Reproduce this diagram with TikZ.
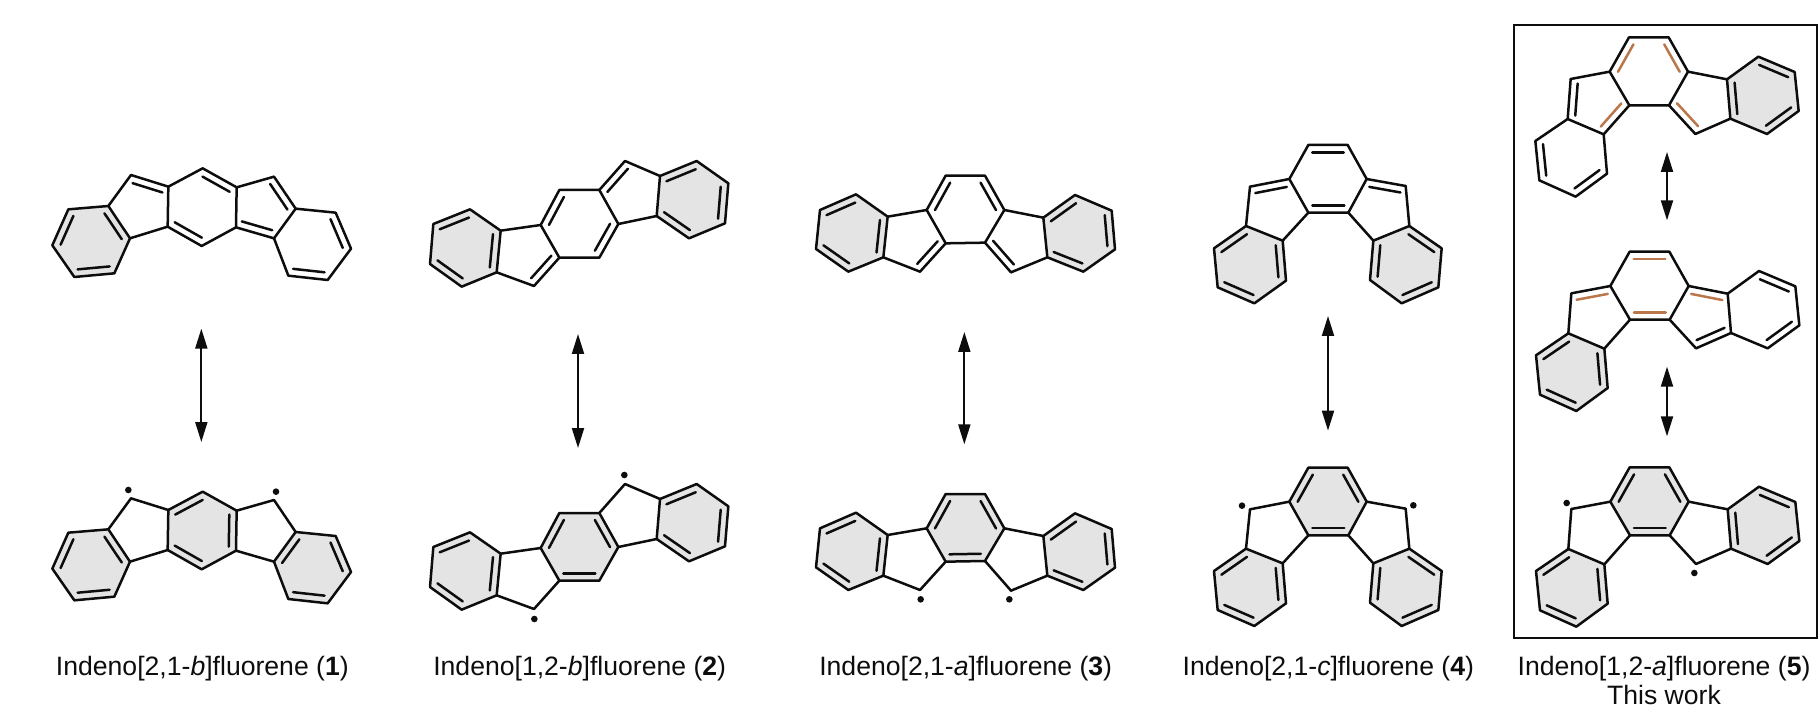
\documentclass[tikz,border=0pt]{standalone}
\usepackage{fontspec}
\setmainfont{Liberation Sans}
\usetikzlibrary{calc,arrows.meta}
\definecolor{ringgrey}{HTML}{E4E4E4}
\definecolor{orangebond}{HTML}{B9774B}
\definecolor{ink}{HTML}{0D0D0D}
\tikzset{
  bond/.style={draw=ink,line width=1.25pt,line join=round,line cap=round},
  hl/.style={bond,draw=orangebond},
  ringfill/.style={fill=ringgrey},
  reso/.style={draw=ink,line width=1pt,{Triangle[length=10pt,width=6pt]}-{Triangle[length=10pt,width=6pt]}},
  lab/.style={anchor=base,inner sep=0pt,font=\fontsize{13.3pt}{16pt}\selectfont,text=ink},
  spin/.style={fill=ink}
}
% atoms
\newcommand\setgeom[2]{\foreach \n/\x/\y in {#2}{\coordinate (#1\n) at (\x,\y);}}
\newcommand\geomA[1]{\setgeom{#1}{a/115/178,b/235/168,c/300/265,d/253/370,e/133/381,f/67/286,i/303/75,g/415/110,h/413/230,j/518/55,k/620/112,l/618/232,m/515/288,n/732/80,o/797/176,p/732/265,q/917/188,r/963/296,s/893/390,t/775/377}}
\newcommand\geomB[1]{\setgeom{#1}{a/70/222,b/180/178,c/272/242,d/260/367,e/155/410,f/60/342,g/392/225,h/448/323,i/372/408,j/448/120,k/568/120,l/625/222,m/568/323,n/645/33,o/750/78,p/740/198,q/860/33,r/955/100,s/945/220,t/837/265}}
\newcommand\geomC[1]{\setgeom{#1}{a/60/150,b/168/103,c/263/170,d/250/292,e/145/335,f/48/267,g/380/150,h/437/250,i/360/335,j/437/47,k/555/47,l/613/150,m/555/248,o/730/173,p/742/292,n/633/337,q/825/105,r/935/152,s/945/268,t/850/335}}
\newcommand\geomD[1]{\setgeom{#1}{a/42/355,b/138/288,c/248/332,d/258/452,e/163/520,f/53/472,i/150/170,g/268/147,h/325/248,j/325/45,k/443/45,l/500/147,m/445/248,n/617/168,o/628/288,p/520/332,q/725/355,r/715/472,s/605/520,t/510/450}}
\newcommand\geomE[1]{\setgeom{#1}{a/76/363,b/173/297,c/281/343,d/291/461,e/197/530,f/88/481,i/182/177,g/299/155,h/358/256,j/357/52,k/476/52,l/534/155,m/477/256,o/651/178,p/661/296,n/556/342,q/745/110,r/854/156,s/866/273,t/771/342}}
% rings
\newcommand\ring[4]{\path[#1] (#2#3) \foreach \v in {#4}{-- (#2\v)} -- cycle;}
\newcommand\fillHL[1]{\ring{ringfill}{#1}{a}{b,c,d,e,f}}
\newcommand\fillC[1]{\ring{ringfill}{#1}{g}{j,k,l,m,h}}
\newcommand\fillHR[1]{\ring{ringfill}{#1}{o}{q,r,s,t,p}}
\newcommand\skel[2]{%
  \ring{bond}{#1}{a}{b,c,d,e,f}
  \ring{bond}{#1}{g}{j,k,l,m,h}
  \ring{bond}{#1}{o}{q,r,s,t,p}
  \foreach \a/\b in {#2}{\draw[bond] (#1\a) -- (#1\b);}}
\newcommand\dbl[3]{\foreach \a/\b in {#3}{\draw[#1] ($(#2\a)!.1!(#2\b)!3.65pt!-90:(#2\b)$) -- ($(#2\b)!.1!(#2\a)!3.65pt!90:(#2\a)$);}}
\begin{document}
\begin{tikzpicture}[x=0.166667pt,y=-0.166667pt]
\useasboundingbox (0,0) rectangle (5460,2118);
% ---------- molecule 1
\begin{scope}[shift={(90,450)}]\geomA{Pa}\end{scope}
\fillHL{Pa}
\skel{Pa}{b/i,i/g,h/c,k/n,n/o,p/l}
\dbl{bond}{Pa}{f/a,b/c,d/e,i/g,j/k,m/h,n/o,p/l,q/r,s/t}
\begin{scope}[shift={(90,1420)}]\geomA{Pb}
\fill[spin] (295,50) circle[radius=1.65pt];
\fill[spin] (738,55) circle[radius=1.65pt];
\end{scope}
\fillHL{Pb}\fillC{Pb}\fillHR{Pb}
\skel{Pb}{b/i,i/g,h/c,k/n,n/o,p/l}
\dbl{bond}{Pb}{f/a,b/c,d/e,g/j,k/l,m/h,p/o,q/r,s/t}
% ---------- molecule 2
\begin{scope}[shift={(1230,450)}]\geomB{Qa}\end{scope}
\fillHL{Qa}\fillHR{Qa}
\skel{Qa}{c/g,h/i,i/d,k/n,n/o,p/l}
\dbl{bond}{Qa}{a/b,c/d,e/f,h/i,g/j,l/m,k/n,o/q,r/s,t/p}
\begin{scope}[shift={(1230,1419)}]\geomB{Qb}
\fill[spin] (643,6) circle[radius=1.65pt];
\fill[spin] (373,438) circle[radius=1.65pt];
\end{scope}
\fillHL{Qb}\fillC{Qb}\fillHR{Qb}
\skel{Qb}{c/g,h/i,i/d,k/n,n/o,p/l}
\dbl{bond}{Qb}{a/b,c/d,e/f,g/j,k/l,m/h,o/q,r/s,t/p}
% ---------- molecule 3
\begin{scope}[shift={(2400,480)}]\geomC{Ra}\end{scope}
\fillHL{Ra}\fillHR{Ra}
\skel{Ra}{c/g,h/i,i/d,l/o,p/n,n/m}
\dbl{bond}{Ra}{a/b,c/d,e/f,g/j,k/l,h/i,n/m,o/q,r/s,t/p}
\begin{scope}[shift={(2400,1435)}]\geomC{Rb}
\fill[spin] (362,363) circle[radius=1.65pt];
\fill[spin] (628,363) circle[radius=1.65pt];
\end{scope}
\fillHL{Rb}\fillC{Rb}\fillHR{Rb}
\skel{Rb}{c/g,h/i,i/d,l/o,p/n,n/m}
\dbl{bond}{Rb}{a/b,c/d,e/f,g/j,k/l,m/h,o/q,r/s,t/p}
% ---------- molecule 4
\begin{scope}[shift={(3600,390)}]\geomD{Sa}\end{scope}
\fillHL{Sa}\fillHR{Sa}
\skel{Sa}{i/g,h/c,b/i,l/n,n/o,p/m}
\dbl{bond}{Sa}{i/g,m/h,j/k,l/n,a/b,c/d,e/f,o/q,r/s,t/p}
\begin{scope}[shift={(3600,1358)}]\geomD{Sb}
\fill[spin] (126,159) circle[radius=1.65pt];
\fill[spin] (640,158) circle[radius=1.65pt];
\end{scope}
\fillHL{Sb}\fillC{Sb}\fillHR{Sb}
\skel{Sb}{i/g,h/c,b/i,l/n,n/o,p/m}
\dbl{bond}{Sb}{g/j,k/l,m/h,a/b,c/d,e/f,o/q,r/s,t/p}
% ---------- molecule 5
\begin{scope}[shift={(4530,60)}]\geomE{Ta}\end{scope}
\fillHR{Ta}
\skel{Ta}{i/g,h/c,b/i,l/o,p/n,n/m}
\dbl{bond}{Ta}{b/i,f/a,d/e,p/o,q/r,s/t}
\dbl{hl}{Ta}{g/j,k/l,h/c,n/m}
\begin{scope}[shift={(4532,703)}]\geomE{Tb}\end{scope}
\fillHL{Tb}
\skel{Tb}{i/g,h/c,b/i,l/o,p/n,n/m}
\dbl{bond}{Tb}{p/n,q/r,s/t,a/b,c/d,e/f}
\dbl{hl}{Tb}{i/g,j/k,m/h,l/o}
\begin{scope}[shift={(4532,1350)}]\geomE{Tc}
\fill[spin] (168,159) circle[radius=1.65pt];
\fill[spin] (551,369) circle[radius=1.65pt];
\end{scope}
\fillHL{Tc}\fillC{Tc}\fillHR{Tc}
\skel{Tc}{i/g,h/c,b/i,l/o,p/n,n/m}
\dbl{bond}{Tc}{g/j,k/l,m/h,a/b,c/d,e/f,p/o,q/r,s/t}
% ---------- resonance arrows
\foreach \nm/\x/\ya/\yb in {one/604/986/1326,two/1734/1002/1344,three/2893/996/1333,four/3984/948/1292,fivea/5001/456/661,fiveb/5001/1100/1309}{
  \coordinate (\nm t) at (\x,\ya);
  \coordinate (\nm b) at (\x,\yb);
  \draw[reso] (\nm t) -- (\nm b);
}
% ---------- frame
\coordinate (frameA) at (4542,75);
\coordinate (frameB) at (5451,1915);
\draw[draw=ink,line width=1.1pt] (frameA) rectangle (frameB);
% ---------- labels
\node[lab] (lab1) at (607,2025) {Indeno[2,1-\textit{b}]fluorene (\textbf{1})};
\node[lab] (lab2) at (1739,2025) {Indeno[1,2-\textit{b}]fluorene (\textbf{2})};
\node[lab] (lab3) at (2897,2025) {Indeno[2,1-\textit{a}]fluorene (\textbf{3})};
\node[lab] (lab4) at (3985,2025) {Indeno[2,1-\textit{c}]fluorene (\textbf{4})};
\node[lab] (lab5) at (4992,2025) {Indeno[1,2-\textit{a}]fluorene (\textbf{5})};
\node[lab] (lab6) at (4992,2112) {This work};
\end{tikzpicture}
\end{document}
